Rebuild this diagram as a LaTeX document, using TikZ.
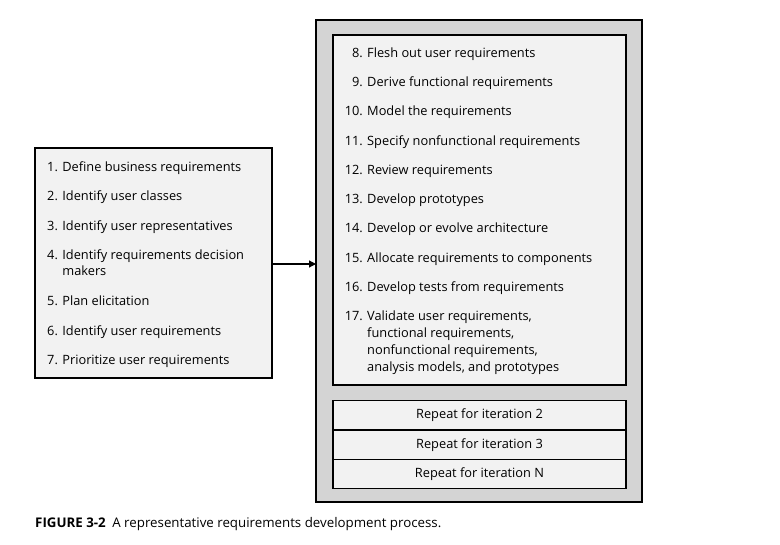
\documentclass[tikz,border=0pt]{standalone}
\usepackage{fontspec}
\setmainfont{Open Sans}
\usetikzlibrary{arrows.meta}
\definecolor{outergray}{HTML}{D4D4D4}
\definecolor{innergray}{HTML}{F2F2F2}
\newcommand{\itemfont}{\fontsize{12.8}{15}\selectfont}
\begin{document}
\begin{tikzpicture}[x=1pt,y=-1pt,
  box/.style={draw=black,line width=1.3pt,fill=innergray,inner sep=0pt,outer sep=0pt},
  outerbox/.style={draw=black,line width=1.5pt,fill=outergray,inner sep=0pt,outer sep=0pt},
  txt/.style={font=\itemfont,inner sep=0pt,anchor=base west,yshift=-5pt},
  num/.style={font=\itemfont,inner sep=0pt,anchor=base east,yshift=-5pt},
  itbox/.style={draw=black,line width=1.3pt,fill=innergray,inner sep=0pt,outer sep=0pt,
     minimum width=293pt,minimum height=29.3pt,font=\itemfont},
  conn/.style={-{Triangle[length=7pt,width=7pt]},line width=1.2pt}]
\useasboundingbox (0,0) rectangle (780,545);
% left box
\node[box,minimum width=237pt,minimum height=230pt] (left) at (153.5,263) {};
\node[txt] (l1) at (47,167) {1. Define business requirements};
\node[txt] (l2) at (47,196) {2. Identify user classes};
\node[txt] (l3) at (47,226) {3. Identify user representatives};
\node[txt] (l4) at (47,255) {4. Identify requirements decision};
\node[txt] (l4b) at (47,271) {\phantom{4. }makers};
\node[txt] (l5) at (47,301) {5. Plan elicitation};
\node[txt] (l6) at (47,331) {6. Identify user requirements};
\node[txt] (l7) at (47,360) {7. Prioritize user requirements};
% right outer box
\node[outerbox,minimum width=326pt,minimum height=482pt] (outer) at (479,261) {};
\node[box,minimum width=293pt,minimum height=350pt] (inner) at (479.5,210) {};
\foreach \n/\t/\y in {8/{Flesh out user requirements}/53,
  9/{Derive functional requirements}/82,
  10/{Model the requirements}/111,
  11/{Specify nonfunctional requirements}/141,
  12/{Review requirements}/170,
  13/{Develop prototypes}/199,
  14/{Develop or evolve architecture}/228,
  15/{Allocate requirements to components}/258,
  16/{Develop tests from requirements}/287,
  17/{Validate user requirements,}/316}{
  \node[num] (n\n) at (363,\y) {\n.};
  \node[txt] (t\n) at (367,\y) {\t};
}
\node[txt] (t17b) at (367,333) {functional requirements,};
\node[txt] (t17c) at (367,350) {nonfunctional requirements,};
\node[txt] (t17d) at (367,367) {analysis models, and prototypes};
% iteration boxes
\node[itbox] (it2) at (479.5,415.5) {Repeat for iteration 2};
\node[itbox,anchor=north] (it3) at (it2.south) {Repeat for iteration 3};
\node[itbox,anchor=north] (itN) at (it3.south) {Repeat for iteration N};
% arrow
\draw[conn] (left.east |- 0,264) -- (outer.west |- 0,264);
% caption
\node[txt,font=\fontsize{13.3}{15}\selectfont] (cap) at (35,522) {\textbf{FIGURE 3-2}\enspace A representative requirements development process.};
\end{tikzpicture}
\end{document}
